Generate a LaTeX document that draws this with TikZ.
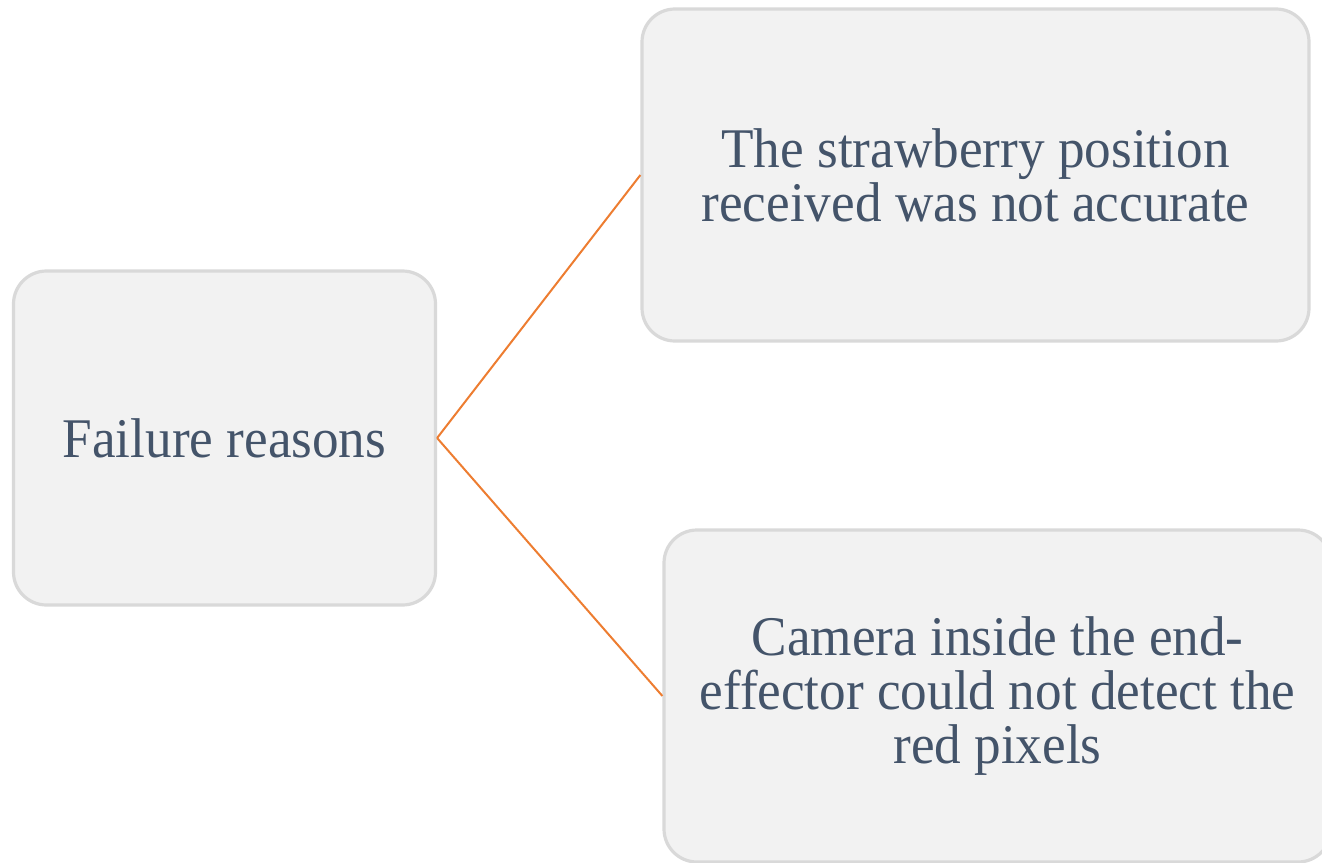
\documentclass[tikz,border=0pt]{standalone}
\usepackage{fontspec}
\setmainfont{Liberation Serif}[FakeStretch=0.95]
\definecolor{boxfill}{HTML}{F2F2F2}
\definecolor{boxline}{HTML}{D9D9D9}
\definecolor{txt}{HTML}{44546A}
\definecolor{conn}{HTML}{ED7D31}
\tikzset{
  reasonbox/.style={draw=boxline, line width=3.2pt, fill=boxfill, rounded corners=33pt,
    rectangle, inner sep=0pt, align=flush center, text=txt,
    font=\fontsize{56}{54}\selectfont},
  link/.style={draw=conn, line width=2pt}
}
\begin{document}
\begin{tikzpicture}[x=1pt,y=-1pt]
\useasboundingbox (0,0) rectangle (1322,862);
\node[reasonbox, minimum width=422pt, minimum height=334pt, text width=400pt] (fail) at (224.5,438) {Failure reasons};
\node[reasonbox, minimum width=667pt, minimum height=332pt, text width=640pt] (pos) at (975.5,175) {The strawberry position\\received was not accurate};
\node[reasonbox, minimum width=667pt, minimum height=332pt, text width=640pt] (cam) at (997.5,696) {Camera inside the end-\\effector could not detect the\\red pixels};
\draw[link] (fail.east) -- (pos.west);
\draw[link] (fail.east) -- (cam.west);
\end{tikzpicture}
\end{document}
